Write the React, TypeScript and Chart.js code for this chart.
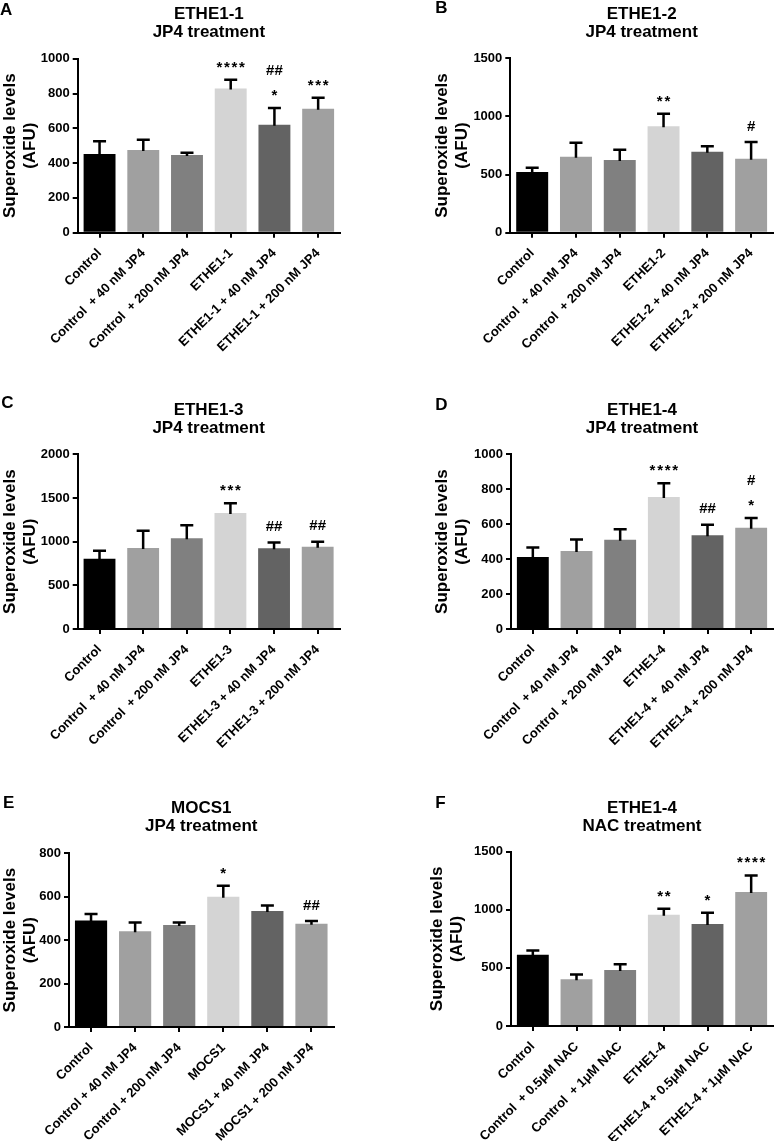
import React, { useEffect, useRef } from 'react';
import { Chart, registerables } from 'chart.js';

Chart.register(...registerables);

const FONT = "'Liberation Sans', Arial, Helvetica, sans-serif";

// ---------- data ----------
const BAR_COLORS = ['#000000', '#a0a0a0', '#808080', '#d4d4d4', '#636363', '#a0a0a0'];
const Y_TITLE = ['Superoxide levels', '(AFU)'];

// Panel A
const A_TITLE = ['ETHE1-1', 'JP4 treatment'];
const A_LABELS = ['Control', 'Control  + 40 nM JP4', 'Control  + 200 nM JP4', 'ETHE1-1', 'ETHE1-1 + 40 nM JP4', 'ETHE1-1 + 200 nM JP4'];
const A_MEANS = [453, 476, 447, 829, 620, 712];
const A_ERRORS = [73, 58, 12, 50, 96, 63];
const A_MARKS = [[], [], [], ['****'], ['*', '##'], ['***']];
const A_YMAX = 1000;
const A_YSTEP = 200;

// Panel B
const B_TITLE = ['ETHE1-2', 'JP4 treatment'];
const B_LABELS = ['Control', 'Control  + 40 nM JP4', 'Control  + 200 nM JP4', 'ETHE1-2', 'ETHE1-2 + 40 nM JP4', 'ETHE1-2 + 200 nM JP4'];
const B_MEANS = [522, 654, 625, 915, 697, 637];
const B_ERRORS = [37, 120, 89, 109, 46, 143];
const B_MARKS = [[], [], [], ['**'], [], ['#']];
const B_YMAX = 1500;
const B_YSTEP = 500;

// Panel C
const C_TITLE = ['ETHE1-3', 'JP4 treatment'];
const C_LABELS = ['Control', 'Control  + 40 nM JP4', 'Control  + 200 nM JP4', 'ETHE1-3', 'ETHE1-3 + 40 nM JP4', 'ETHE1-3 + 200 nM JP4'];
const C_MEANS = [805, 927, 1038, 1328, 924, 943];
const C_ERRORS = [92, 199, 149, 111, 65, 57];
const C_MARKS = [[], [], [], ['***'], ['##'], ['##']];
const C_YMAX = 2000;
const C_YSTEP = 500;

// Panel D
const D_TITLE = ['ETHE1-4', 'JP4 treatment'];
const D_LABELS = ['Control', 'Control  + 40 nM JP4', 'Control  + 200 nM JP4', 'ETHE1-4', 'ETHE1-4 +  40 nM JP4', 'ETHE1-4 + 200 nM JP4'];
const D_MEANS = [412, 447, 511, 756, 536, 580];
const D_ERRORS = [54, 66, 60, 78, 61, 56];
const D_MARKS = [[], [], [], ['****'], ['##'], ['*', '#']];
const D_YMAX = 1000;
const D_YSTEP = 200;

// Panel E
const E_TITLE = ['MOCS1', 'JP4 treatment'];
const E_LABELS = ['Control', 'Control + 40 nM JP4', 'Control + 200 nM JP4', 'MOCS1', 'MOCS1 + 40 nM JP4', 'MOCS1 + 200 nM JP4'];
const E_MEANS = [491, 441, 470, 600, 534, 476];
const E_ERRORS = [29, 40, 11, 50, 26, 12];
const E_MARKS = [[], [], [], ['*'], [], ['##']];
const E_YMAX = 800;
const E_YSTEP = 200;

// Panel F
const F_TITLE = ['ETHE1-4', 'NAC treatment'];
const F_LABELS = ['Control', 'Control  + 0.5μM NAC', 'Control  + 1μM NAC', 'ETHE1-4', 'ETHE1-4 + 0.5μM NAC', 'ETHE1-4 + 1μM NAC'];
const F_MEANS = [614, 402, 482, 958, 878, 1153];
const F_ERRORS = [36, 42, 49, 50, 96, 143];
const F_MARKS = [[], [], [], ['**'], ['*'], ['****']];
const F_YMAX = 1500;
const F_YSTEP = 500;

const PANELS = [
  { letter: 'A', title: A_TITLE, labels: A_LABELS, means: A_MEANS, errors: A_ERRORS, marks: A_MARKS, yMax: A_YMAX, yStep: A_YSTEP },
  { letter: 'B', title: B_TITLE, labels: B_LABELS, means: B_MEANS, errors: B_ERRORS, marks: B_MARKS, yMax: B_YMAX, yStep: B_YSTEP },
  { letter: 'C', title: C_TITLE, labels: C_LABELS, means: C_MEANS, errors: C_ERRORS, marks: C_MARKS, yMax: C_YMAX, yStep: C_YSTEP },
  { letter: 'D', title: D_TITLE, labels: D_LABELS, means: D_MEANS, errors: D_ERRORS, marks: D_MARKS, yMax: D_YMAX, yStep: D_YSTEP },
  { letter: 'E', title: E_TITLE, labels: E_LABELS, means: E_MEANS, errors: E_ERRORS, marks: E_MARKS, yMax: E_YMAX, yStep: E_YSTEP },
  { letter: 'F', title: F_TITLE, labels: F_LABELS, means: F_MEANS, errors: F_ERRORS, marks: F_MARKS, yMax: F_YMAX, yStep: F_YSTEP },
];

// ---------- layout (positions only) ----------
const LAYOUT = [
  { left: 0, top: 0, w: 387, h: 396, padLeft: 0, area: { l: 77.7, r: 340, t: 58.7, b: 232.7 }, letterX: 0, letterY: 15 },
  { left: 387, top: 0, w: 387, h: 396, padLeft: 45, area: { l: 123.3, r: 386, t: 58.3, b: 232.7 }, letterX: 48.3, letterY: 13.3 },
  { left: 0, top: 396, w: 387, h: 398, padLeft: 0, area: { l: 77.7, r: 339.5, t: 58.3, b: 233 }, letterX: 1.2, letterY: 12.3 },
  { left: 387, top: 396, w: 387, h: 398, padLeft: 45, area: { l: 124, r: 386, t: 58.3, b: 233 }, letterX: 48.3, letterY: 14 },
  { left: 0, top: 794, w: 387, h: 347, padLeft: 0, area: { l: 69, r: 333.5, t: 59.3, b: 233 }, letterX: 3, letterY: 14.3 },
  { left: 387, top: 794, w: 387, h: 347, padLeft: 40, area: { l: 124, r: 386, t: 57.7, b: 232 }, letterX: 48.3, letterY: 14.3 },
];

const TITLE_SIZE = 17;
const TITLE_LINE = 18;
const TITLE_PAD_TOP = 5.5;
const MARK_SIZE = 15;

function makeChart(canvas: HTMLCanvasElement, p: any, l: any) {
  const a = l.area;
  const overlay = {
    id: 'overlay' + p.letter,
    afterDatasetsDraw(chart: any) {
      const ctx = chart.ctx;
      const meta = chart.getDatasetMeta(0);
      const ys = chart.scales.y;
      ctx.save();
      ctx.strokeStyle = '#000';
      ctx.fillStyle = '#000';
      ctx.lineWidth = 2.5;
      p.means.forEach((m: number, i: number) => {
        const x = meta.data[i].x;
        const y0 = ys.getPixelForValue(m);
        const y1 = ys.getPixelForValue(m + p.errors[i]);
        ctx.beginPath();
        ctx.moveTo(x, y0 + 1);
        ctx.lineTo(x, y1);
        ctx.moveTo(x - 6.5, y1);
        ctx.lineTo(x + 6.5, y1);
        ctx.stroke();
        ctx.font = `bold ${MARK_SIZE}px ${FONT}`;
        ctx.textAlign = 'center';
        ctx.textBaseline = 'alphabetic';
        p.marks[i].forEach((s: string, j: number) => {
          const star = s.charAt(0) === '*';
          (ctx as any).letterSpacing = star ? '1.7px' : '0px';
          const cy = y1 - 16.5 - 21.5 * j;
          ctx.fillText(s, x + (star ? 0.85 : 0), cy + (star ? 0.57 : 0.35) * MARK_SIZE);
        });
        (ctx as any).letterSpacing = '0px';
      });
      ctx.restore();
    },
    afterDraw(chart: any) {
      const ctx = chart.ctx;
      ctx.save();
      ctx.fillStyle = '#000';
      ctx.font = `bold 17px ${FONT}`;
      ctx.textAlign = 'left';
      ctx.textBaseline = 'alphabetic';
      ctx.fillText(p.letter, l.letterX, l.letterY);
      ctx.restore();
    },
  };

  const tickFont = { family: FONT, size: 13, weight: 'bold' as const };
  const gridOpts = { display: true, drawOnChartArea: false, drawTicks: true, tickLength: 5, color: '#000', lineWidth: 2 };

  return new Chart(canvas, {
    type: 'bar',
    data: {
      labels: p.labels,
      datasets: [
        {
          data: p.means,
          backgroundColor: BAR_COLORS,
          borderWidth: 0,
          barPercentage: 0.73,
          categoryPercentage: 1,
        },
      ],
    },
    options: {
      animation: false,
      responsive: false,
      devicePixelRatio: 1,
      layout: { padding: { left: l.padLeft, right: l.w - a.r, top: 0, bottom: 0 } },
      plugins: {
        legend: { display: false },
        tooltip: { enabled: false },
        title: {
          display: true,
          text: p.title,
          fullSize: false,
          color: '#000',
          font: { family: FONT, size: TITLE_SIZE, weight: 'bold', lineHeight: TITLE_LINE / TITLE_SIZE },
          padding: { top: TITLE_PAD_TOP, bottom: a.t - 2 * TITLE_LINE - TITLE_PAD_TOP },
        },
      },
      scales: {
        x: {
          type: 'category',
          offset: true,
          grid: { ...gridOpts, offset: false },
          border: { display: true, color: '#000', width: 2 },
          ticks: { color: '#000', font: tickFont, maxRotation: 45, minRotation: 45, autoSkip: false, padding: 8 },
          afterFit: (s: any) => {
            s.height = l.h - a.b;
          },
        },
        y: {
          min: 0,
          max: p.yMax,
          ticks: {
            stepSize: p.yStep,
            color: '#000',
            font: tickFont,
            padding: 3,
            callback: (v: any) => String(v),
          },
          grid: gridOpts,
          border: { display: true, color: '#000', width: 2 },
          title: {
            display: true,
            text: Y_TITLE,
            color: '#000',
            font: { family: FONT, size: 17, weight: 'bold', lineHeight: 1.2 },
            padding: { top: 0, bottom: 0 },
          },
          afterFit: (s: any) => {
            s.width = a.l - l.padLeft;
          },
        },
      },
    } as any,
    plugins: [overlay],
  });
}

export default function App() {
  const refs = useRef<(HTMLCanvasElement | null)[]>([]);
  useEffect(() => {
    const charts = PANELS.map((p, i) => makeChart(refs.current[i] as HTMLCanvasElement, p, LAYOUT[i]));
    return () => charts.forEach((c) => c.destroy());
  }, []);
  return (
    <div style={{ position: 'absolute', left: 0, top: 0, width: 774, height: 1141, background: '#fff' }}>
      {LAYOUT.map((l, i) => (
        <canvas
          key={i}
          ref={(el) => {
            refs.current[i] = el;
          }}
          width={l.w}
          height={l.h}
          style={{ position: 'absolute', left: l.left, top: l.top, width: l.w, height: l.h }}
        />
      ))}
    </div>
  );
}
